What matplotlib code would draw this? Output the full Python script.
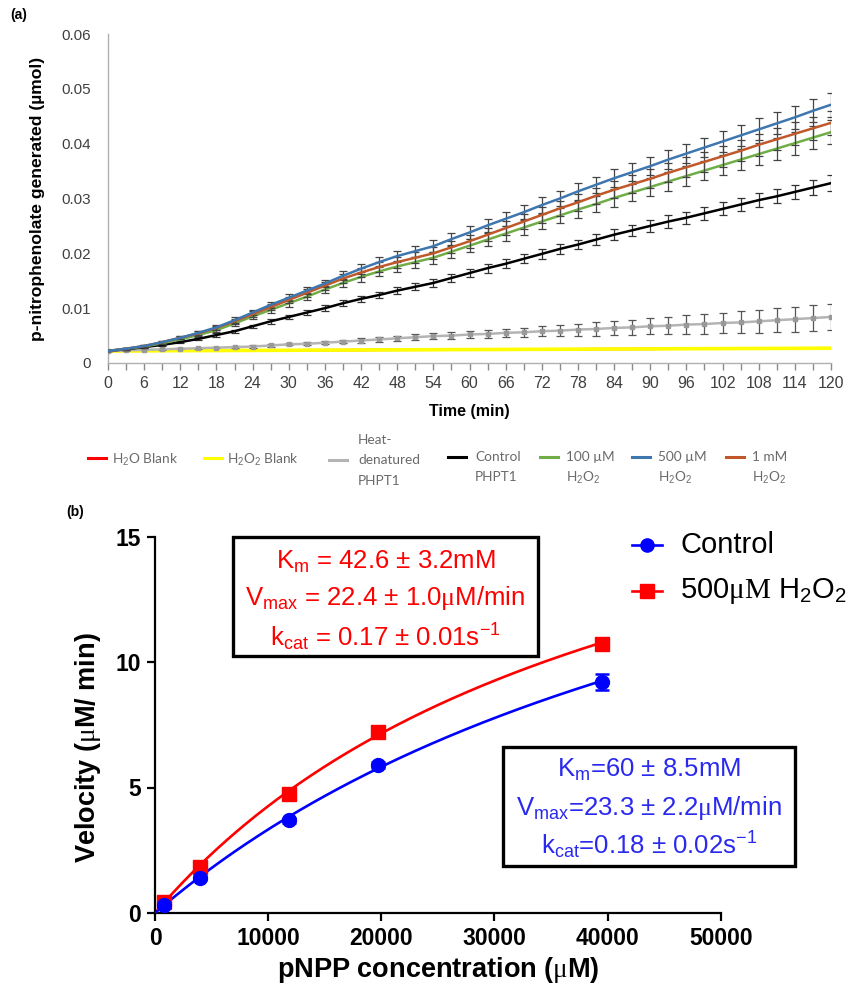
import matplotlib
matplotlib.use("Agg")
import matplotlib.pyplot as plt
import numpy as np
from matplotlib.lines import Line2D
from matplotlib.patches import Rectangle

plt.rcParams['font.family'] = ['Liberation Sans', 'DejaVu Sans']
plt.rcParams['mathtext.fontset'] = 'custom'
plt.rcParams['mathtext.rm'] = 'Liberation Sans'
plt.rcParams['mathtext.it'] = 'Liberation Sans:italic'
plt.rcParams['mathtext.bf'] = 'Liberation Sans:bold'
plt.rcParams['mathtext.sf'] = 'Liberation Serif'

# ---------------- Panel (a) data ----------------
time_min = list(range(0, 121, 3))

h2o_blank = [0.00220, 0.00221, 0.00222, 0.00224, 0.00225, 0.00226, 0.00227, 0.00229, 0.00230, 0.00231,
             0.00232, 0.00234, 0.00235, 0.00236, 0.00237, 0.00239, 0.00240, 0.00241, 0.00242, 0.00244,
             0.00245, 0.00246, 0.00247, 0.00249, 0.00250, 0.00251, 0.00252, 0.00254, 0.00255, 0.00256,
             0.00257, 0.00259, 0.00260, 0.00261, 0.00262, 0.00264, 0.00265, 0.00266, 0.00267, 0.00269, 0.00270]
h2o2_blank = [0.00220, 0.00221, 0.00222, 0.00224, 0.00225, 0.00226, 0.00227, 0.00229, 0.00230, 0.00231,
              0.00232, 0.00234, 0.00235, 0.00236, 0.00237, 0.00239, 0.00240, 0.00241, 0.00242, 0.00244,
              0.00245, 0.00246, 0.00247, 0.00249, 0.00250, 0.00251, 0.00252, 0.00254, 0.00255, 0.00256,
              0.00257, 0.00259, 0.00260, 0.00261, 0.00262, 0.00264, 0.00265, 0.00266, 0.00267, 0.00269, 0.00270]
heat_denatured = [0.0022, 0.0023, 0.0024, 0.0025, 0.0026, 0.0027, 0.0028, 0.0029, 0.0030, 0.0032,
                  0.0034, 0.0035, 0.0037, 0.0039, 0.0041, 0.0043, 0.0045, 0.0047, 0.0049, 0.0050,
                  0.0052, 0.0053, 0.0055, 0.0056, 0.0058, 0.0059, 0.0061, 0.0062, 0.0064, 0.0065,
                  0.0067, 0.0068, 0.0070, 0.0071, 0.0073, 0.0074, 0.0076, 0.0078, 0.0080, 0.0082, 0.0084]
control_phpt1 = [0.0022, 0.0025, 0.0029, 0.0033, 0.0038, 0.0044, 0.0051, 0.0058, 0.0067, 0.0076,
                 0.0084, 0.0092, 0.0100, 0.0109, 0.0117, 0.0124, 0.0132, 0.0139, 0.0146, 0.0155,
                 0.0164, 0.0173, 0.0181, 0.0190, 0.0199, 0.0208, 0.0216, 0.0225, 0.0234, 0.0242,
                 0.0250, 0.0258, 0.0265, 0.0273, 0.0281, 0.0289, 0.0297, 0.0304, 0.0312, 0.0320, 0.0328]
h2o2_100uM = [0.0022, 0.0026, 0.0030, 0.0036, 0.0043, 0.0051, 0.0060, 0.0072, 0.0085, 0.0097,
              0.0109, 0.0121, 0.0134, 0.0146, 0.0157, 0.0167, 0.0176, 0.0184, 0.0192, 0.0203,
              0.0214, 0.0225, 0.0236, 0.0247, 0.0258, 0.0269, 0.0280, 0.0290, 0.0301, 0.0311,
              0.0321, 0.0331, 0.0341, 0.0351, 0.0361, 0.0371, 0.0381, 0.0391, 0.0401, 0.0411, 0.0421]
h2o2_500uM = [0.0022, 0.0026, 0.0031, 0.0038, 0.0046, 0.0055, 0.0065, 0.0078, 0.0092, 0.0106,
              0.0119, 0.0132, 0.0145, 0.0159, 0.0172, 0.0184, 0.0195, 0.0204, 0.0213, 0.0226,
              0.0238, 0.0251, 0.0263, 0.0275, 0.0288, 0.0300, 0.0313, 0.0325, 0.0337, 0.0348,
              0.0359, 0.0371, 0.0382, 0.0393, 0.0404, 0.0415, 0.0426, 0.0437, 0.0448, 0.0460, 0.0471]
h2o2_1mM = [0.0022, 0.0026, 0.0031, 0.0038, 0.0046, 0.0054, 0.0064, 0.0076, 0.0089, 0.0102,
            0.0115, 0.0128, 0.0141, 0.0154, 0.0165, 0.0175, 0.0184, 0.0192, 0.0200, 0.0211,
            0.0222, 0.0234, 0.0246, 0.0258, 0.0270, 0.0282, 0.0293, 0.0305, 0.0316, 0.0326,
            0.0336, 0.0347, 0.0357, 0.0367, 0.0377, 0.0387, 0.0398, 0.0408, 0.0418, 0.0428, 0.0438]

err_h2o2 = [0.0001, 0.0002, 0.0002, 0.0003, 0.0003, 0.0004, 0.0004, 0.0005, 0.0005, 0.0006,
            0.0006, 0.0007, 0.0007, 0.0008, 0.0009, 0.0009, 0.0010, 0.0010, 0.0011, 0.0011,
            0.0012, 0.0012, 0.0013, 0.0013, 0.0014, 0.0014, 0.0015, 0.0015, 0.0016, 0.0016,
            0.0017, 0.0017, 0.0018, 0.0018, 0.0019, 0.0019, 0.0020, 0.0020, 0.0021, 0.0021, 0.0022]
err_control = [0.0001, 0.0001, 0.0001, 0.0002, 0.0002, 0.0002, 0.0003, 0.0003, 0.0003, 0.0004,
               0.0004, 0.0004, 0.0005, 0.0005, 0.0005, 0.0006, 0.0006, 0.0006, 0.0007, 0.0007,
               0.0007, 0.0008, 0.0008, 0.0008, 0.0009, 0.0009, 0.0009, 0.0010, 0.0010, 0.0010,
               0.0011, 0.0011, 0.0011, 0.0012, 0.0012, 0.0012, 0.0013, 0.0013, 0.0013, 0.0014, 0.0014]
err_heat = [0.0000, 0.0000, 0.0001, 0.0001, 0.0001, 0.0001, 0.0001, 0.0002, 0.0002, 0.0002,
            0.0002, 0.0003, 0.0003, 0.0003, 0.0004, 0.0004, 0.0004, 0.0005, 0.0005, 0.0006,
            0.0006, 0.0007, 0.0007, 0.0008, 0.0009, 0.0010, 0.0011, 0.0012, 0.0013, 0.0014,
            0.0015, 0.0016, 0.0017, 0.0018, 0.0019, 0.0020, 0.0021, 0.0022, 0.0023, 0.0024, 0.0024]

a_yticks = [0, 0.01, 0.02, 0.03, 0.04, 0.05, 0.06]
a_yticklabels = ['0', '0.01', '0.02', '0.03', '0.04', '0.05', '0.06']
a_xticks = list(range(0, 121, 6))

legend_a_labels = [["H$_2$O Blank"], ["H$_2$O$_2$ Blank"], ["Heat-", "denatured", "PHPT1"],
                   ["Control", "PHPT1"], ["100 µM", "H$_2$O$_2$"], ["500 µM", "H$_2$O$_2$"],
                   ["1 mM", "H$_2$O$_2$"]]

# ---------------- Panel (b) data ----------------
pnpp_conc = [790, 3950, 11850, 19750, 39500]
v_control = [0.30, 1.40, 3.70, 5.90, 9.20]
v_control_err = [0.05, 0.08, 0.10, 0.12, 0.32]
v_h2o2 = [0.45, 1.85, 4.75, 7.20, 10.70]
km_control, vmax_control = 60000.0, 23.3   # µM, µM/min
km_h2o2, vmax_h2o2 = 42600.0, 22.4

W, H = 859, 990
fig = plt.figure(figsize=(W / 100, H / 100), dpi=100)

def fx(px):
    return px / W

def fy(py):
    return 1 - py / H

# ---------------- Panel (a) ----------------
ax1 = fig.add_axes([fx(108), fy(363), fx(831 - 108), (363 - 34) / H])
col_red, col_yel, col_gray = '#ff0000', '#ffff00', '#b4b4b4'
col_black, col_green, col_blue, col_orange = '#000000', '#70ad47', '#3e76b0', '#c0582a'

ax1.plot(time_min, h2o_blank, color=col_red, lw=1.8, zorder=2)
ax1.plot(time_min, h2o2_blank, color=col_yel, lw=2.6, zorder=3)
ax1.errorbar(time_min, heat_denatured, yerr=err_heat, color=col_gray, lw=1.8,
             ecolor='#555555', elinewidth=0.9, capsize=3, capthick=0.9, zorder=3,
             marker='s', ms=2.2, mfc='#999999', mec='#999999')
ax1.errorbar(time_min, control_phpt1, yerr=err_control, color=col_black, lw=1.8,
             ecolor='#333333', elinewidth=0.9, capsize=3, capthick=0.9, zorder=4)
ax1.errorbar(time_min, h2o2_100uM, yerr=err_h2o2, color=col_green, lw=1.8,
             ecolor='#444444', elinewidth=0.9, capsize=3, capthick=0.9, zorder=4)
ax1.errorbar(time_min, h2o2_1mM, yerr=err_h2o2, color=col_orange, lw=1.8,
             ecolor='#444444', elinewidth=0.9, capsize=3, capthick=0.9, zorder=5)
ax1.errorbar(time_min, h2o2_500uM, yerr=err_h2o2, color=col_blue, lw=1.8,
             ecolor='#444444', elinewidth=0.9, capsize=3, capthick=0.9, zorder=5)

ax1.set_xlim(0, 120)
ax1.set_ylim(0, 0.06)
ax1.set_xticks(a_xticks)
ax1.set_xticks(time_min, minor=True)
ax1.set_yticks(a_yticks)
ax1.set_yticklabels(a_yticklabels)
for s in ['top', 'right']:
    ax1.spines[s].set_visible(False)
for s in ['left', 'bottom']:
    ax1.spines[s].set_color('#b0b0b0')
    ax1.spines[s].set_linewidth(1.0)
ax1.tick_params(axis='x', which='both', direction='out', length=5, width=1.0, color='#8c8c8c',
                labelsize=11.5, labelcolor='#404040', pad=4)
ax1.tick_params(axis='y', length=0, labelsize=11, labelcolor='#404040', pad=12)
ax1.set_xlabel('Time (min)', fontsize=11.5, fontweight='bold')
ax1.xaxis.set_label_coords(0.5, -0.125)
ax1.set_ylabel('p-nitrophenolate generated (µmol)', fontsize=12.6, fontweight='bold')
ax1.yaxis.set_label_coords(-0.087, 0.5)

fig.text(fx(10), fy(15), '(a)', fontsize=10, fontweight='bold', va='center', ha='left')

# legend (a), drawn manually
leg_colors = [col_red, col_yel, col_gray, col_black, col_green, col_blue, col_orange]
leg_handle_x = [88, 204, 329, 448, 540, 632, 726]
leg_text_x = [112, 227, 358, 475, 566, 658, 752]
leg_first_y = [460, 460, 440, 457, 457, 457, 457]
leg_handle_y = [458, 458, 460, 457, 457, 457, 457]
for lab, c, hx, tx, y0, hy in zip(legend_a_labels, leg_colors, leg_handle_x, leg_text_x,
                                  leg_first_y, leg_handle_y):
    fig.add_artist(Line2D([fx(hx), fx(hx + 18)], [fy(hy), fy(hy)], color=c, lw=2.2,
                          transform=fig.transFigure))
    for i, line in enumerate(lab):
        fig.text(fx(tx), fy(y0 + 20.5 * i), line, fontsize=9.8, color='#6a6a6a',
                 family=['Lato', 'DejaVu Sans'], va='center', ha='left')

# ---------------- Panel (b) ----------------
ax2 = fig.add_axes([fx(155), fy(913), fx(720.7 - 155), (913 - 536.5) / H])
s_fit = np.linspace(0, max(pnpp_conc), 200)
ax2.plot(s_fit, vmax_h2o2 * s_fit / (km_h2o2 + s_fit), color='#ff0000', lw=1.9, zorder=2)
ax2.plot(s_fit, vmax_control * s_fit / (km_control + s_fit), color='#0000ff', lw=1.9, zorder=3)
ax2.plot(pnpp_conc, v_h2o2, linestyle='none', marker='s', ms=9.5, color='#ff0000', zorder=4)
ax2.errorbar(pnpp_conc, v_control, yerr=v_control_err, linestyle='none', marker='o', ms=10,
             color='#0000ff', ecolor='#0000ff', elinewidth=1.8, capsize=5, capthick=1.8, zorder=5)

ax2.set_xlim(0, 50000)
ax2.set_ylim(0, 15)
ax2.set_xticks([0, 10000, 20000, 30000, 40000, 50000])
ax2.set_yticks([0, 5, 10, 15])
for s in ['top', 'right']:
    ax2.spines[s].set_visible(False)
for s in ['left', 'bottom']:
    ax2.spines[s].set_linewidth(1.6)
ax2.tick_params(direction='out', length=6, width=1.6, labelsize=16.5, pad=4)
for lbl in ax2.get_xticklabels() + ax2.get_yticklabels():
    lbl.set_fontweight('bold')
ax2.set_xlabel(r'pNPP concentration ($\mathsf{\mu}$M)', fontsize=19.5, fontweight='bold')
ax2.xaxis.set_label_coords(0.5, -0.112)
ax2.set_ylabel(r'Velocity ($\mathsf{\mu}$M/ min)', fontsize=19.5, fontweight='bold')
ax2.yaxis.set_label_coords(-0.092, 0.44)

fig.text(fx(66), fy(512), '(b)', fontsize=10, fontweight='bold', va='center', ha='left')

# legend (b)
leg_b = [('Control', '#0000ff', 'o', 545), (r'500$\mathsf{\mu M}$ H$_2$O$_2$', '#ff0000', 's', 591)]
for text, c, m, y in leg_b:
    fig.add_artist(Line2D([fx(632), fx(662)], [fy(y), fy(y)], color=c, lw=1.9,
                          transform=fig.transFigure))
    fig.add_artist(Line2D([fx(647)], [fy(y)], color=c, marker=m, ms=9.5,
                          transform=fig.transFigure))
    fig.text(fx(680), fy(y), text, fontsize=21, va='center', ha='left')

# text boxes
boxes = [
    (233, 537, 538, 656, '#ff0000',
     [r'K$_\mathrm{m}$ = 42.6 ± 3.2mM',
      r'V$_\mathrm{max}$ = 22.4 ± 1.0$\mathsf{\mu}$M/min',
      r'k$_\mathrm{cat}$ = 0.17 ± 0.01s$^\mathrm{-1}$'],
     [562, 598, 637]),
    (503, 747, 795, 866, '#2a2aee',
     [r'K$_\mathrm{m}$=60 ± 8.5mM',
      r'V$_\mathrm{max}$=23.3 ± 2.2$\mathsf{\mu}$M/min',
      r'k$_\mathrm{cat}$=0.18 ± 0.02s$^\mathrm{-1}$'],
     [770, 808, 845]),
]
for x0, y0, x1, y1, c, lines, ys in boxes:
    fig.add_artist(Rectangle((fx(x0), fy(y1)), fx(x1 - x0), (y1 - y0) / H, fill=False,
                             edgecolor='black', lw=2.4, transform=fig.transFigure))
    for line, yy in zip(lines, ys):
        fig.text(fx((x0 + x1) / 2), fy(yy), line, fontsize=18.5, color=c, ha='center', va='center')

fig.savefig('out.png', dpi=100)
